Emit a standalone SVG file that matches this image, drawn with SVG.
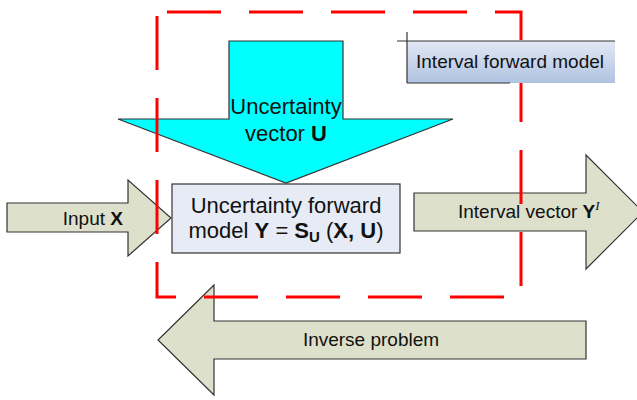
<svg xmlns="http://www.w3.org/2000/svg" width="637" height="400" viewBox="0 0 637 400">
<defs>
<linearGradient id="gBlue" x1="0" y1="0" x2="0" y2="1">
<stop offset="0" stop-color="#E2E8F3"/>
<stop offset="1" stop-color="#AFC3E1"/>
</linearGradient>
</defs>
<style>
.arrow{fill:#DDE0CB;stroke:#333333;stroke-width:1.2}
.cyan{fill:#00FFFF;stroke:#333333;stroke-width:1.2}
.box{fill:#E6EBF6;stroke:#333333;stroke-width:1.2}
.t{font-family:"Liberation Sans",Arial,sans-serif;fill:#111111}
.s{font-size:19px}
.l{font-size:22px}
.dash{fill:none;stroke:#FF0000;stroke-width:3;stroke-dasharray:54 28;stroke-dashoffset:72}
.edge{stroke:#333333;stroke-width:1.2;fill:none}
</style>
<g id="input-x">
<polygon class="arrow" points="7,203 128,203 128,180 171,218 128,256 128,232 7,232"/>
<text class="t s" x="123" y="225" text-anchor="end">Input <tspan font-weight="bold">X</tspan></text>
</g>
<g id="interval-vector">
<polygon class="arrow" points="414,193 586,193 586,155 643,212 586,269 586,231 414,231"/>
<text class="t s" x="458" y="218">Interval vector <tspan font-weight="bold">Y</tspan><tspan font-family="'Liberation Serif',serif" font-style="italic" font-size="13" dy="-8">I</tspan></text>
</g>
<g id="inverse-problem">
<polygon class="arrow" points="586,321 214,321 214,285 158,340 214,395 214,359 586,359"/>
<text class="t s" x="371" y="346" text-anchor="middle">Inverse problem</text>
</g>
<g id="uncertainty-vector">
<polygon class="cyan" points="229,41 343,41 343,119 453,119 286,183 118,119 229,119"/>
<text class="t l" x="286" y="114" text-anchor="middle">Uncertainty</text>
<text class="t l" x="286" y="141" text-anchor="middle">vector <tspan font-weight="bold">U</tspan></text>
</g>
<g id="uncertainty-model">
<rect class="box" x="172" y="184" width="228" height="69"/>
<text class="t l" x="286" y="213" text-anchor="middle">Uncertainty forward</text>
<text class="t l" x="286" y="238" text-anchor="middle">model <tspan font-weight="bold">Y</tspan> = <tspan font-weight="bold">S</tspan><tspan font-weight="bold" font-size="15" dy="4">U</tspan><tspan dy="-4"> (</tspan><tspan font-weight="bold">X, U</tspan>)</text>
</g>
<g id="connectors">
<path class="dash" d="M157,12 H521 V297 H157 Z"/>
</g>
<g id="interval-forward-model">
<rect x="407" y="41" width="208" height="42" fill="url(#gBlue)"/>
<line class="edge" x1="397" y1="41" x2="615" y2="41"/>
<line class="edge" x1="407" y1="32" x2="407" y2="83"/>
<line class="edge" x1="407" y1="83" x2="510" y2="83"/>
<text class="t s" x="510" y="68" text-anchor="middle">Interval forward model</text>
</g>
</svg>
